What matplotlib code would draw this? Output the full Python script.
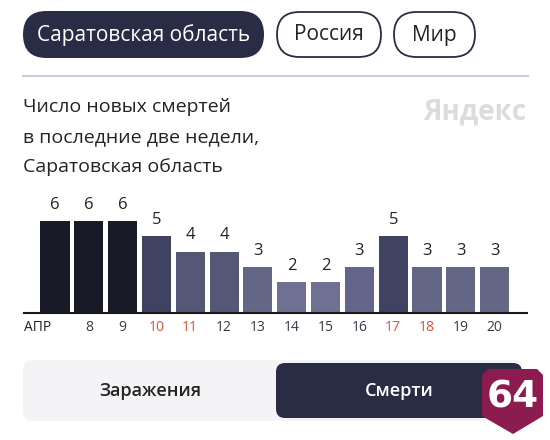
import matplotlib
matplotlib.use("Agg")
import matplotlib.pyplot as plt
from matplotlib.patches import FancyBboxPatch, Polygon

plt.rcParams['font.family'] = ['Open Sans', 'DejaVu Sans']

# ---- data ----
days = [7, 8, 9, 10, 11, 12, 13, 14, 15, 16, 17, 18, 19, 20]
tick_labels = ["АПР", "8", "9", "10", "11", "12", "13", "14", "15", "16", "17", "18", "19", "20"]
deaths = [6, 6, 6, 5, 4, 4, 3, 2, 2, 3, 5, 3, 3, 3]
bar_colors = ["#181a28", "#181a28", "#181a28", "#3f4260", "#545775", "#545775", "#636685",
              "#6e7192", "#6e7192", "#63668a", "#3f4260", "#636685", "#636685", "#636685"]
weekend = [False, False, False, True, True, False, False, False, False, False, True, True, False, False]
title_lines = ["Число новых смертей", "в последние две недели,", "Саратовская область"]
region_tabs = ["Саратовская область", "Россия", "Мир"]
metric_tabs = ["Заражения", "Смерти"]

W, H = 550, 440
fig = plt.figure(figsize=(W / 100, H / 100), dpi=100)
fig.patch.set_facecolor("white")

bg = fig.add_axes([0, 0, 1, 1])
bg.set_xlim(0, W)
bg.set_ylim(H, 0)
bg.axis("off")

DARK = "#2a2b45"
TEXT = "#232323"

def pill(x0, y0, x1, y1, fc, ec="none", lw=0, r=None):
    h = y1 - y0
    if r is None:
        r = h / 2
    p = FancyBboxPatch((x0 + r, y0 + r), (x1 - x0) - 2 * r, h - 2 * r,
                       boxstyle=f"round,pad={r}", fc=fc, ec=ec, lw=lw)
    bg.add_patch(p)

# region tabs
pill(23, 11, 264, 58, DARK)
bg.text((23 + 264) / 2, 35, region_tabs[0], color="white", fontsize=15, ha="center", va="center")
pill(277, 12, 381, 57, "white", ec="#2a2b45", lw=1.3)
bg.text((277 + 381) / 2, 35, region_tabs[1], color=TEXT, fontsize=15, ha="center", va="center")
pill(394, 12, 475, 57, "white", ec="#2a2b45", lw=1.3)
bg.text((394 + 475) / 2, 35, region_tabs[2], color=TEXT, fontsize=15, ha="center", va="center")

# separator
bg.plot([23, 528], [76, 76], color="#c8cbdc", lw=1.5)

# title
for i, line in enumerate(title_lines):
    bg.text(23, 112 + 30 * i, line, color=TEXT, fontsize=14, ha="left", va="baseline")

# watermark
bg.text(526, 119, "Яндекс", color="#dcdcdc", fontsize=20, fontweight="bold", ha="right", va="baseline")

# metric toggle
pill(23, 360, 524, 421, "#f4f4f6", r=10)
bg.text(150, 391, metric_tabs[0], color=TEXT, fontsize=13, fontweight="semibold", ha="center", va="center")
pill(276, 363, 522, 418, DARK, r=9)
bg.text(399, 391, metric_tabs[1], color="white", fontsize=13, fontweight="semibold", ha="center", va="center")

# badge
shield = Polygon([(488, 369), (537, 369), (543, 375), (543, 416), (513, 434),
                  (482, 416), (482, 375)], closed=True, fc="#8c1b4f", ec="none")
bg.add_patch(shield)
bg.text(513, 397, "64", color="white", fontsize=27, fontweight="bold", ha="center", va="center",
        family=["DejaVu Sans"])

# ---- bar chart ----
x_left_px, x_right_px = 24, 527
base_px, top_px = 313, 200
ax = fig.add_axes([x_left_px / W, (H - base_px) / H, (x_right_px - x_left_px) / W, (base_px - top_px) / H])
ax.patch.set_alpha(0)
idx = list(range(len(days)))
step = 33.82
ax.set_xlim((x_left_px - 55) / step, (x_right_px - 55) / step)
ax.set_ylim(0, (base_px - top_px) / 15.33)
bars = ax.bar(idx, deaths, width=0.86, color=bar_colors, edgecolor="none")
for b, v in zip(bars, deaths):
    ax.annotate(str(v), (b.get_x() + b.get_width() / 2, v), xytext=(0, 6), textcoords="offset points",
                ha="center", va="bottom", fontsize=12, color=TEXT)
for s in ["top", "right", "left"]:
    ax.spines[s].set_visible(False)
ax.spines["bottom"].set_color("#1a1a1a")
ax.spines["bottom"].set_linewidth(1.5)
ax.set_yticks([])
ax.set_xticks(idx[1:])
ax.set_xticklabels(tick_labels[1:], fontsize=10)
ax.tick_params(axis="x", length=0, pad=5)
for lab, we in zip(ax.get_xticklabels(), weekend[1:]):
    lab.set_color("#e0513a" if we else "#3a3a48")
ax.annotate(tick_labels[0], (0, 0), xycoords="axes fraction", xytext=(0, -5), textcoords="offset points",
            ha="left", va="top", fontsize=10, color=TEXT)

fig.savefig("out.png", dpi=100, facecolor="white")
